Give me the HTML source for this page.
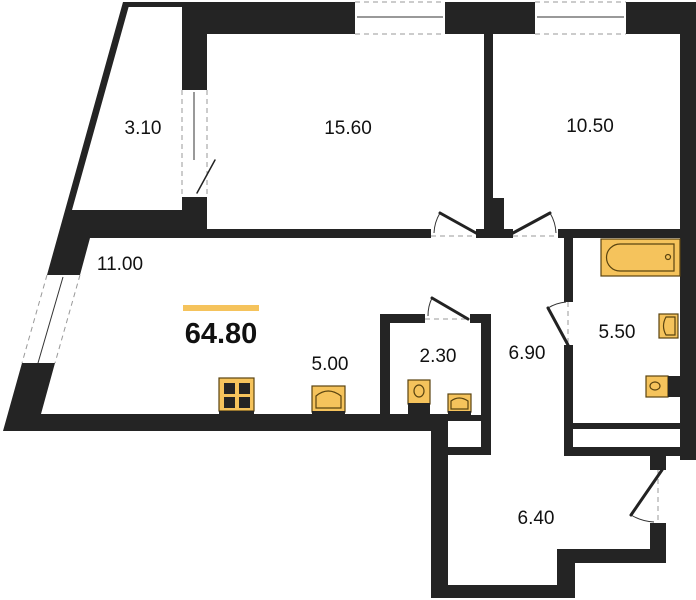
<!DOCTYPE html>
<html><head><meta charset="utf-8"><style>
html,body{margin:0;padding:0;background:#fff;width:696px;height:600px;overflow:hidden}
svg{display:block}
text{font-family:"Liberation Sans",sans-serif;fill:#111}
</style></head><body>
<svg width="696" height="600" viewBox="0 0 696 600" xmlns="http://www.w3.org/2000/svg">
<g fill="#242424">
<rect x="123" y="2" width="59" height="5"/>
<rect x="182" y="2" width="173" height="32"/>
<rect x="445" y="2" width="90" height="32"/>
<rect x="626" y="2" width="70" height="32"/>
<rect x="680" y="2" width="16" height="458"/>
<rect x="182" y="2" width="25" height="88"/>
<rect x="182" y="197" width="25" height="41"/>
<polygon points="123,2 130,2 72,210 182,210 182,238 90,238 80,275 47,275"/>
<polygon points="22,363 55,363 41,414 431,414 431,431 3,431"/>
<rect x="207" y="229" width="224" height="9"/>
<rect x="476" y="229" width="37" height="9"/>
<rect x="484" y="34" width="9" height="195"/>
<rect x="484" y="198" width="20" height="40"/>
<rect x="558" y="229" width="122" height="9"/>
<rect x="564" y="229" width="9" height="73"/>
<rect x="564" y="345" width="9" height="111"/>
<rect x="564" y="447" width="132" height="9"/>
<rect x="573" y="423" width="107" height="6"/>
<rect x="650" y="456" width="16" height="14"/>
<rect x="650" y="523" width="16" height="40"/>
<rect x="557" y="549" width="109" height="14"/>
<rect x="557" y="549" width="18" height="49"/>
<rect x="431" y="585" width="144" height="13"/>
<rect x="431" y="414" width="17" height="184"/>
<rect x="380" y="314" width="45" height="9"/>
<rect x="470" y="314" width="21" height="9"/>
<rect x="380" y="314" width="10" height="100"/>
<rect x="481" y="314" width="10" height="141"/>
<rect x="448" y="415" width="35" height="6"/>
<rect x="448" y="447" width="43" height="8"/>
</g>
<!-- windows -->
<g stroke="#999" stroke-dasharray="5,4" fill="none" stroke-width="1">
<line x1="355" y1="2" x2="445" y2="2"/><line x1="355" y1="34" x2="445" y2="34"/>
<line x1="535" y1="2" x2="626" y2="2"/><line x1="535" y1="34" x2="626" y2="34"/>
<line x1="182" y1="90" x2="182" y2="197"/><line x1="207" y1="90" x2="207" y2="197"/>
<line x1="47" y1="275" x2="22" y2="363"/><line x1="80" y1="275" x2="55" y2="363"/>
<line x1="431" y1="236" x2="476" y2="236"/><line x1="513" y1="236" x2="558" y2="236"/>
<line x1="425" y1="319" x2="470" y2="319"/>
<line x1="568" y1="302" x2="568" y2="345"/>
<line x1="658" y1="470" x2="658" y2="523"/>
</g>
<g stroke="#333" stroke-width="1" fill="none">
<line x1="357" y1="17" x2="443" y2="17"/><line x1="537" y1="17" x2="624" y2="17"/>
<line x1="194" y1="92" x2="194" y2="160"/>
<line x1="63" y1="277" x2="38" y2="363"/>
<path d="M440,213 A42,42 0 0 0 434,233"/>
<path d="M550,213 A42,42 0 0 1 556,233"/>
<path d="M432,298 A40,40 0 0 0 428,316"/>
<path d="M548,308 A42,42 0 0 1 566,302"/>
<path d="M631,515 A50,50 0 0 0 654,522"/>
</g>
<g stroke="#222" stroke-width="3" stroke-linecap="round">
<line x1="476" y1="233" x2="440" y2="213"/>
<line x1="513" y1="233" x2="550" y2="213"/>
<line x1="468" y1="319" x2="432" y2="298"/>
<line x1="568" y1="345" x2="548" y2="308"/>
<line x1="662" y1="470" x2="631" y2="515"/>
<line x1="197" y1="193" x2="215" y2="160" stroke-width="1.5"/>
</g>
<!-- fixtures -->
<g stroke="#5a4410" stroke-width="1.2">
<rect x="601" y="239" width="79" height="37" fill="#f5c35c"/>
<path d="M620,244 H674 V271 H620 A13,13 0 0 1 620,244 Z" fill="#f5c35c"/>
<circle cx="668" cy="257" r="2.5" fill="none"/>
<rect x="219" y="378" width="35" height="33" fill="#f5c35c"/>
<rect x="312" y="386" width="33" height="26" fill="#f5c35c"/>
<path d="M316,408 V396 Q328,386 341,396 V408 Z" fill="none"/>
<rect x="408" y="380" width="22" height="24" fill="#f5c35c"/>
<ellipse cx="419" cy="391" rx="5" ry="6" fill="none"/>
<rect x="448" y="394" width="23" height="18" fill="#f5c35c"/>
<path d="M451,409 V401 Q459,395 468,401 V409 Z" fill="none"/>
<rect x="659" y="314" width="19" height="24" fill="#f5c35c"/>
<path d="M675,317 H666 Q661,326 666,335 H675 Z" fill="none"/>
<rect x="646" y="376" width="22" height="21" fill="#f5c35c"/>
<ellipse cx="655" cy="386" rx="5" ry="4" fill="none"/>
</g>
<g fill="#242424">
<rect x="224" y="383" width="11" height="11"/><rect x="239" y="383" width="11" height="11"/>
<rect x="224" y="397" width="11" height="11"/><rect x="239" y="397" width="11" height="11"/>
<rect x="219" y="411" width="35" height="4"/>
<rect x="312" y="411" width="33" height="4"/>
<rect x="408" y="403" width="22" height="12"/>
<rect x="448" y="411" width="23" height="4"/>
<rect x="668" y="376" width="12" height="21"/>
</g>
<rect x="183" y="305" width="76" height="6" fill="#f5c35c"/>
<g font-size="19" text-anchor="middle">
<text x="143" y="134">3.10</text>
<text x="348" y="134">15.60</text>
<text x="590" y="132">10.50</text>
<text x="120" y="270">11.00</text>
<text x="330" y="370">5.00</text>
<text x="438" y="362">2.30</text>
<text x="527" y="359">6.90</text>
<text x="617" y="338">5.50</text>
<text x="536" y="524">6.40</text>
</g>
<text x="221" y="343" font-size="29" font-weight="bold" text-anchor="middle">64.80</text>
</svg>
</body></html>
